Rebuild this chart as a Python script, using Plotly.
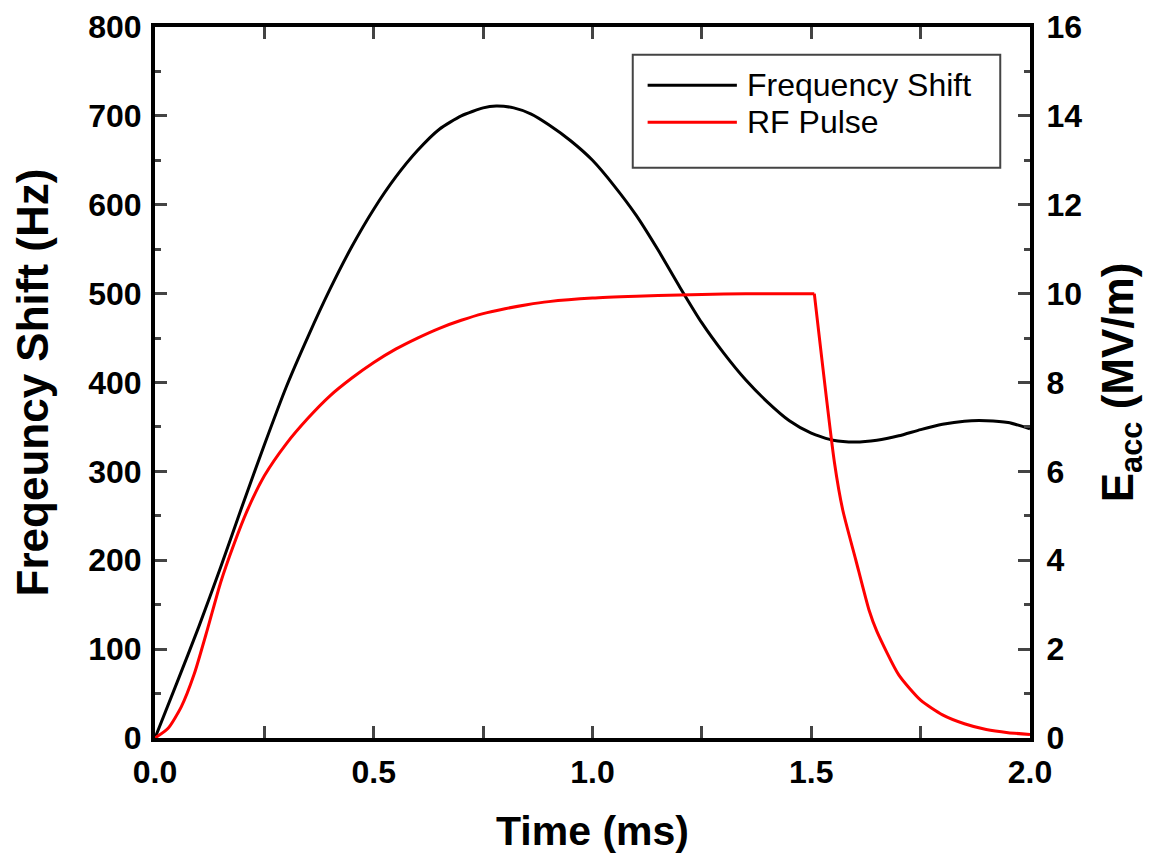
import plotly.graph_objects as go

# Frequency shift (Hz) vs time (ms)
t_freq = [0.0, 0.05, 0.1, 0.15, 0.2, 0.25, 0.3, 0.35, 0.4, 0.45, 0.5, 0.55, 0.6, 0.65,
          0.7, 0.75, 0.78, 0.82, 0.86, 0.9, 0.95, 1.0, 1.05, 1.1, 1.15, 1.2, 1.25, 1.3,
          1.35, 1.4, 1.45, 1.5, 1.55, 1.6, 1.65, 1.7, 1.75, 1.8, 1.85, 1.9, 1.95, 2.0]
freq_shift = [0, 62, 125, 192, 262, 330, 395, 452, 505, 553, 595, 631, 661, 685,
              700, 709, 711, 709, 702, 690, 672, 650, 621, 588, 549, 507, 467, 433,
              403, 378, 357, 343, 335, 333, 335, 340, 347, 353, 356.5, 357, 355, 348]

# RF pulse Eacc (MV/m) vs time (ms)
t_rf = [0.0, 0.03, 0.06, 0.09, 0.12, 0.15, 0.18, 0.21, 0.25, 0.3, 0.35, 0.4, 0.45, 0.5,
        0.55, 0.6, 0.65, 0.7, 0.75, 0.8, 0.85, 0.9, 1.0, 1.1, 1.2, 1.3, 1.4, 1.507,
        1.553, 1.572, 1.602, 1.632, 1.65, 1.7, 1.75, 1.8, 1.85, 1.9, 1.95, 2.0]
e_acc = [0.0, 0.22, 0.7, 1.45, 2.45, 3.5, 4.35, 5.1, 5.9, 6.62, 7.2, 7.7, 8.1, 8.45,
         8.75, 9.0, 9.22, 9.4, 9.55, 9.66, 9.75, 9.82, 9.9, 9.94, 9.97, 9.99, 10.0, 10.0,
         6.2, 5.13, 4.0, 2.88, 2.4, 1.42, 0.85, 0.52, 0.32, 0.19, 0.12, 0.08]
pulse_end = 1.507

FONT = "Liberation Sans, Arial, sans-serif"
RED = "#ff0000"

fig = go.Figure()
fig.add_trace(go.Scatter(x=t_freq, y=freq_shift, mode="lines", name="Frequency Shift",
                         line=dict(color="black", width=3, shape="spline", smoothing=0.6)))

# RF pulse drawn in two pieces so the switch-off corner stays sharp
i_end = t_rf.index(pulse_end)
fig.add_trace(go.Scatter(x=t_rf[:i_end + 1], y=e_acc[:i_end + 1], mode="lines",
                         name="RF Pulse", yaxis="y2", legendgroup="rf",
                         line=dict(color=RED, width=3, shape="spline", smoothing=0.6)))
fig.add_trace(go.Scatter(x=t_rf[i_end:], y=e_acc[i_end:], mode="lines",
                         name="RF Pulse", yaxis="y2", legendgroup="rf", showlegend=False,
                         line=dict(color=RED, width=3, shape="spline", smoothing=0.6)))

tick_font = dict(family=FONT, size=32, color="black", weight="bold")
title_font = dict(family=FONT, size=44, color="black", weight="bold")

fig.update_layout(
    width=1155, height=862,
    margin=dict(l=147, r=133, t=19, b=132),
    paper_bgcolor="white", plot_bgcolor="white",
    showlegend=False,
    xaxis=dict(range=[0, 2.0], dtick=0.5, tickformat=".1f", ticks="inside", ticklen=12,
               tickwidth=3, showline=True, linewidth=4, linecolor="black", mirror="allticks",
               showgrid=False, zeroline=False, tickfont=tick_font, ticklabelstandoff=3,
               automargin=False,
               minor=dict(dtick=0.25, ticks="inside", ticklen=6, tickwidth=3),
               title=dict(text="Time (ms)", font=dict(title_font, size=41), standoff=28)),
    yaxis=dict(range=[0, 800], dtick=100, ticks="inside", ticklen=12, tickwidth=3,
               showline=True, linewidth=4, linecolor="black", showgrid=False, zeroline=False,
               tickfont=tick_font, ticklabelstandoff=3, automargin=False,
               minor=dict(dtick=50, ticks="inside", ticklen=6, tickwidth=3),
               title=dict(text="Freqeuncy Shift (Hz)", font=title_font, standoff=28)),
    yaxis2=dict(range=[0, 16], dtick=2, overlaying="y", side="right", ticks="inside",
                ticklen=12, tickwidth=3, showline=True, linewidth=4, linecolor="black",
                showgrid=False, zeroline=False, tickfont=tick_font, ticklabelstandoff=6,
                automargin=False,
                minor=dict(dtick=1, ticks="inside", ticklen=6, tickwidth=3),
                title=dict(text="E<sub>acc</sub> (MV/m)", font=title_font, standoff=22)),
)

# legend frame, sample lines and labels
fig.add_shape(type="rect", xref="paper", yref="paper", x0=0.546, x1=0.966, y0=0.802, y1=0.961,
              line=dict(color="#444444", width=2), fillcolor="rgba(0,0,0,0)")
legend_items = [("Frequency Shift", "black", 0.918), ("RF Pulse", RED, 0.866)]
for label, color, ly in legend_items:
    fig.add_shape(type="line", xref="paper", yref="paper", x0=0.563, x1=0.665, y0=ly, y1=ly,
                  line=dict(color=color, width=3))
    fig.add_annotation(text=label, xref="paper", yref="paper", x=0.674, y=ly,
                       xanchor="left", yanchor="middle", showarrow=False,
                       font=dict(family=FONT, size=32, color="black"))

fig.write_html("out.html")
